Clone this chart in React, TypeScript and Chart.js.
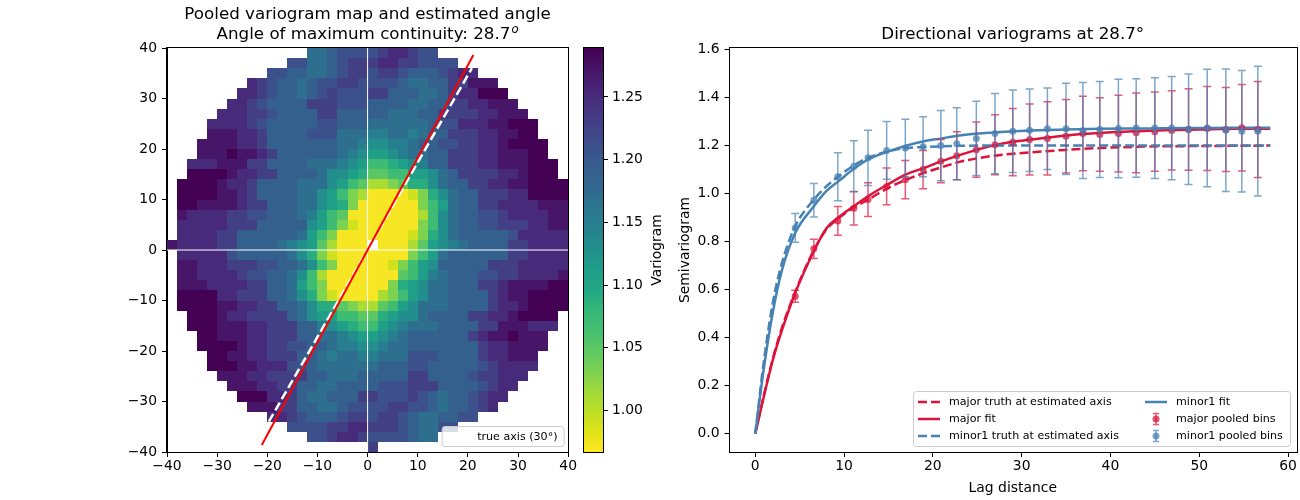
import React, { useEffect, useRef } from "react";
import { Chart, registerables } from "chart.js";

Chart.register(...registerables);

const FONT_FAMILY = "'DejaVu Sans', 'Liberation Sans', sans-serif";
Chart.defaults.font.family = FONT_FAMILY;
Chart.defaults.color = "#000";

// ---------------------------------------------------------------------------
// Pooled variogram map: 2-unit lag cells, rows from y = 40 (top) down to y = -40,
// columns from x = -40 to 40. Each character is a level code (0..g, base 36);
// '.' marks a cell with no pairs.
// ---------------------------------------------------------------------------
const MAP_X_MIN = -40;
const MAP_Y_MAX = 40;
const MAP_CELL = 2;
const MAP_LEVEL_BASE = 0.97;
const MAP_LEVEL_STEP = 0.02;
const MAP_ROWS = [
  "..............aabccccdeedcc.............",
  "............ccaabcdddeeddcccc...........",
  "..........ccbbaabcddcddcbbbcdee.........",
  "........edcbbabccddccccbaabbddfff.......",
  ".......eedcbbabcdcccddbbbaabdeeggg......",
  "......eedcbbbbdddcccbbbbaabbddeefff.....",
  ".....eeeddcbbbbddbbbbbaaabbddddeefff....",
  "....eeeedcbbbbbccbbbaaaaaabcceeeffggg...",
  "....fffeedbbbbcccaaa99aa9abbdddeeffgg...",
  "...ffffeedbbbbbbbaa98899abbccddeefgggg..",
  "...fffgffedbbbbbba987789aabbdddeefffgg..",
  "..eeefffddbbbbaaa987556789bbdddeefffggg.",
  "..ggggfeeddbbbba88764455778abddddeefggg.",
  ".ggggfeedbbbbaaa87542234668abbddeeffgggg",
  ".ggggffedbbbbaa8753200001368abbdddeegggg",
  ".ggffffeddbbbaa8763000000357abbddeeeefff",
  ".feeeeddccbbba97540000000258abbccdeeeeff",
  ".eeeeedddbbbbb87531000000358abbccdddeeff",
  ".eeeeddbbbbbba75300000001368abbbbbceeeee",
  "feeeeddbbbba98742000.00024789abbbbddeeee",
  ".eeeeecbbbbba86310000000357abbbbbbddeeee",
  ".ffeeedddccbba8530000013578bbbbbdddeeeee",
  ".ffeeeedccbba85200000004579abbbccddeeeef",
  ".fffeeeeddbba7530000003678aabbbddeffffgg",
  ".ggggeedddbba8631000023578aabbbbdeffgggg",
  ".ggggffeeddbba86643224578aaabbbbdeefgggg",
  "..gggfeeddddba87755446788abbbbddeefgggg.",
  "..gggfffeedddbb987655789aaabbbbddfffeee.",
  "...ggfffeedddbbaa987789abbbbbbdeffgfff..",
  "...ggggfeeddccbba99889aabbbbbbbdeeffff..",
  "....ggffeedddbba9aa99aaacccbbbbdeefff...",
  "....gggffeeeccbaaaaaabbbccbbbbbcdeeee...",
  ".....fffeeddddbbaaabbbbbddbbbbcddeee....",
  "......fffeeddbbaabbbbcccdddbbbbcdee.....",
  ".......gggeedbaabbbddcccdcbabbcdee......",
  "........fffddbbaabccccddccbabbcde.......",
  "..........eedcbbbcddcddcbaabbcc.........",
  "............ccccddeedddcbaacc...........",
  "..............ccdeedccccbaa.............",
  "....................d...................",
];
const MAP_VMIN = 0.967;
const MAP_VMAX = 1.289;
const MAP_TICKS = [-40, -30, -20, -10, 0, 10, 20, 30, 40];
const COLORBAR_TICKS = [1.0, 1.05, 1.1, 1.15, 1.2, 1.25];
const EST_ANGLE = 28.7;
const TRUE_ANGLE = 30;
const EST_AXIS_LINE = [{ x: -21.1, y: -38.6 }, { x: 21.1, y: 38.6 }];
const TRUE_AXIS_LINE = [{ x: -19.7, y: -34.0 }, { x: 20.8, y: 36.0 }];
const ZERO_H_LINE = [{ x: -40, y: 0 }, { x: 40, y: 0 }];
const ZERO_V_LINE = [{ x: 0, y: -40 }, { x: 0, y: 40 }];

// ---------------------------------------------------------------------------
// Directional variograms
// ---------------------------------------------------------------------------
const LAG_BINS = [4.5, 6.6, 9.3, 11.1, 12.7, 14.8, 16.9, 18.9, 20.9, 22.7, 24.9, 27.0, 29.0, 30.9, 32.9, 35.0, 36.9, 38.8, 40.9, 42.9, 45.0, 46.9, 48.8, 50.9, 53.0, 54.8, 56.6];
const MAJOR_BIN_GAMMA = [0.572, 0.770, 0.886, 0.939, 0.975, 1.030, 1.058, 1.100, 1.135, 1.158, 1.183, 1.203, 1.214, 1.225, 1.230, 1.239, 1.250, 1.246, 1.250, 1.253, 1.258, 1.263, 1.267, 1.271, 1.267, 1.274, 1.267];
const MAJOR_BIN_ERR = [0.025, 0.04, 0.06, 0.07, 0.07, 0.077, 0.08, 0.08, 0.09, 0.10, 0.115, 0.125, 0.14, 0.148, 0.153, 0.153, 0.155, 0.153, 0.16, 0.166, 0.165, 0.165, 0.17, 0.175, 0.175, 0.18, 0.2];
const MINOR_BIN_GAMMA = [0.857, 0.972, 1.070, 1.114, 1.149, 1.180, 1.190, 1.195, 1.200, 1.208, 1.230, 1.250, 1.260, 1.264, 1.270, 1.270, 1.263, 1.267, 1.271, 1.273, 1.273, 1.273, 1.268, 1.273, 1.264, 1.260, 1.260];
const MINOR_BIN_ERR = [0.06, 0.07, 0.10, 0.106, 0.115, 0.12, 0.12, 0.125, 0.146, 0.15, 0.155, 0.167, 0.172, 0.172, 0.17, 0.19, 0.2, 0.2, 0.205, 0.205, 0.21, 0.215, 0.23, 0.245, 0.255, 0.253, 0.27];

const CURVE_LAGS = [0, 1, 2, 3, 4.5, 6.6, 8, 9.5, 11, 12.7, 15, 17, 19, 21, 23, 25, 27, 29, 31, 35, 39, 43, 46, 50, 54, 58];
const MAJOR_TRUTH = [0, 0.165, 0.315, 0.44, 0.59, 0.765, 0.85, 0.9, 0.94, 0.975, 1.024, 1.058, 1.086, 1.11, 1.132, 1.147, 1.158, 1.166, 1.172, 1.182, 1.19, 1.195, 1.197, 1.198, 1.199, 1.2];
const MAJOR_FIT = [0, 0.16, 0.31, 0.43, 0.586, 0.76, 0.855, 0.905, 0.945, 0.989, 1.04, 1.08, 1.107, 1.135, 1.16, 1.183, 1.202, 1.216, 1.225, 1.242, 1.253, 1.26, 1.264, 1.267, 1.27, 1.27];
const MINOR_TRUTH = [0, 0.31, 0.55, 0.71, 0.864, 0.975, 1.03, 1.075, 1.115, 1.149, 1.176, 1.19, 1.194, 1.197, 1.199, 1.2, 1.2, 1.2, 1.2, 1.2, 1.2, 1.2, 1.2, 1.2, 1.2, 1.2];
const MINOR_FIT = [0, 0.28, 0.51, 0.68, 0.836, 0.947, 1.01, 1.055, 1.1, 1.142, 1.176, 1.2, 1.218, 1.23, 1.242, 1.25, 1.255, 1.26, 1.263, 1.267, 1.27, 1.271, 1.272, 1.273, 1.274, 1.274];

const VARIO_X_TICKS = [0, 10, 20, 30, 40, 50, 60];
const VARIO_Y_TICKS = [0, 0.2, 0.4, 0.6, 0.8, 1.0, 1.2, 1.4, 1.6];
const LEGEND_LABELS = [
  "major truth at estimated axis",
  "major fit",
  "minor1 truth at estimated axis",
  "minor1 fit",
  "major pooled bins",
  "minor1 pooled bins",
];

const CRIMSON = "220, 20, 60";
const STEEL = "70, 130, 180";

// viridis anchors every 0.05
const VIRIDIS = [
  "#440154", "#471365", "#482475", "#463480", "#414487", "#3b528b", "#355f8d",
  "#31688e", "#2a788e", "#26828e", "#21918c", "#1f9e89", "#22a884", "#35b779",
  "#44bf70", "#5ec962", "#7ad151", "#a0da39", "#bddf26", "#dfe318", "#fde725",
];
const VIRIDIS_RGB = VIRIDIS.map((h) => [1, 3, 5].map((i) => parseInt(h.slice(i, i + 2), 16)));

function viridis(p: number) {
  const t = Math.min(1, Math.max(0, p)) * (VIRIDIS_RGB.length - 1);
  const i = Math.min(VIRIDIS_RGB.length - 2, Math.floor(t));
  const f = t - i;
  const a = VIRIDIS_RGB[i];
  const b = VIRIDIS_RGB[i + 1];
  const c = a.map((v, k) => Math.round(v + (b[k] - v) * f));
  return `rgb(${c[0]},${c[1]},${c[2]})`;
}

// reversed viridis: low semivariance is yellow, high is dark purple
function mapColor(v: number) {
  return viridis(1 - (v - MAP_VMIN) / (MAP_VMAX - MAP_VMIN));
}

const signed = (v: number) => (v < 0 ? "\u2212" + Math.abs(v) : String(v));

function font(size: number, style = "") {
  return `${style} ${size}px ${FONT_FAMILY}`.trim();
}

function axis(values: number[], min: number, max: number, fmt: (v: number) => string, size: number, padding: number, position?: string, display = true) {
  return {
    type: "linear",
    display,
    min,
    max,
    position,
    afterBuildTicks: (s: any) => {
      s.ticks = values.map((value) => ({ value }));
    },
    afterFit: (s: any) => {
      if (s.isHorizontal()) s.height = size;
      else s.width = size;
    },
    grid: { drawOnChartArea: false, drawTicks: true, tickLength: 5, color: "#000", lineWidth: 1 },
    border: { display: true, color: "#000", width: 1 },
    ticks: {
      autoSkip: false,
      maxRotation: 0,
      minRotation: 0,
      padding,
      color: "#000",
      font: { family: FONT_FAMILY, size: 13.9 },
      callback: (v: any) => fmt(Number(v)),
    },
  };
}

function roundRectPath(ctx: CanvasRenderingContext2D, x: number, y: number, w: number, h: number, r: number) {
  ctx.beginPath();
  ctx.moveTo(x + r, y);
  ctx.lineTo(x + w - r, y);
  ctx.arcTo(x + w, y, x + w, y + r, r);
  ctx.lineTo(x + w, y + h - r);
  ctx.arcTo(x + w, y + h, x + w - r, y + h, r);
  ctx.lineTo(x + r, y + h);
  ctx.arcTo(x, y + h, x, y + h - r, r);
  ctx.lineTo(x, y + r);
  ctx.arcTo(x, y, x + r, y, r);
  ctx.closePath();
}

const framePlugin = {
  id: "frame",
  afterDraw(chart: any) {
    const { ctx, chartArea: a } = chart;
    ctx.save();
    ctx.strokeStyle = "#000";
    ctx.lineWidth = 1;
    ctx.strokeRect(Math.round(a.left) - 0.5, Math.round(a.top) - 0.5, Math.round(a.right - a.left) + 1, Math.round(a.bottom - a.top) + 1);
    ctx.restore();
  },
};

const mapCellsPlugin = {
  id: "mapCells",
  beforeDatasetsDraw(chart: any) {
    const { ctx, scales } = chart;
    const xs = scales.x;
    const ys = scales.y;
    ctx.save();
    MAP_ROWS.forEach((row, r) => {
      const yTop = MAP_Y_MAX - r * MAP_CELL;
      const py0 = Math.round(ys.getPixelForValue(yTop));
      const py1 = Math.round(ys.getPixelForValue(yTop - MAP_CELL));
      for (let c = 0; c < row.length; c++) {
        const ch = row[c];
        if (ch === ".") continue;
        const v = MAP_LEVEL_BASE + MAP_LEVEL_STEP * parseInt(ch, 36);
        const xLeft = MAP_X_MIN + c * MAP_CELL;
        const px0 = Math.round(xs.getPixelForValue(xLeft));
        const px1 = Math.round(xs.getPixelForValue(xLeft + MAP_CELL));
        ctx.fillStyle = mapColor(v);
        ctx.fillRect(px0, py0, px1 - px0, py1 - py0);
      }
    });
    ctx.restore();
  },
};

const mapTextPlugin = {
  id: "mapText",
  afterDraw(chart: any) {
    const { ctx, chartArea: a } = chart;
    const cx = (a.left + a.right) / 2;
    ctx.save();
    ctx.fillStyle = "#000";
    ctx.textBaseline = "alphabetic";
    ctx.textAlign = "center";
    ctx.font = font(16.7);
    ctx.fillText("Pooled variogram map and estimated angle", cx, a.top - 29);
    const line2 = "Angle of maximum continuity: " + EST_ANGLE.toFixed(1);
    const w1 = ctx.measureText(line2).width;
    ctx.font = font(11.7, "italic");
    const w2 = ctx.measureText("o").width;
    const start = cx - (w1 + w2 + 1) / 2;
    ctx.textAlign = "left";
    ctx.font = font(16.7);
    ctx.fillText(line2, start, a.top - 9);
    ctx.font = font(11.7, "italic");
    ctx.fillText("o", start + w1 + 1, a.top - 15.5);

    // legend for the reference axis
    const w = 122;
    const h = 20;
    const right = a.right - 4;
    const bottom = a.bottom - 5.5;
    const left = right - w;
    const top = bottom - h;
    roundRectPath(ctx, left, top, w, h, 3);
    ctx.fillStyle = "rgba(255,255,255,0.8)";
    ctx.fill();
    ctx.strokeStyle = "#cccccc";
    ctx.lineWidth = 1;
    ctx.stroke();
    ctx.strokeStyle = "#ffffff";
    ctx.lineWidth = 2.5;
    ctx.setLineDash([9, 4]);
    ctx.beginPath();
    ctx.moveTo(left + 6, top + h / 2);
    ctx.lineTo(left + 28, top + h / 2);
    ctx.stroke();
    ctx.setLineDash([]);
    ctx.fillStyle = "#000";
    ctx.font = font(11.1);
    ctx.textBaseline = "middle";
    ctx.fillText(`true axis (${TRUE_ANGLE}\u00b0)`, left + 35, top + h / 2 + 0.5);
    ctx.restore();
  },
};

const colorbarPlugin = {
  id: "colorbar",
  beforeDatasetsDraw(chart: any) {
    const { ctx, chartArea: a, scales } = chart;
    const ys = scales.y;
    ctx.save();
    for (let py = Math.floor(a.top); py < Math.ceil(a.bottom); py++) {
      ctx.fillStyle = mapColor(ys.getValueForPixel(py + 0.5));
      ctx.fillRect(a.left, py, a.right - a.left, 1);
    }
    ctx.restore();
  },
  afterDraw(chart: any) {
    const { ctx, chartArea: a } = chart;
    ctx.save();
    ctx.translate(a.right + 54, (a.top + a.bottom) / 2);
    ctx.rotate(-Math.PI / 2);
    ctx.fillStyle = "#000";
    ctx.font = font(13.9);
    ctx.textAlign = "center";
    ctx.textBaseline = "middle";
    ctx.fillText("Variogram", 0, 0);
    ctx.restore();
  },
};

const errorBarPlugin = {
  id: "errorBars",
  beforeDatasetDraw(chart: any, args: any) {
    const ds = chart.data.datasets[args.index];
    if (!ds.errors) return;
    const { ctx, scales } = chart;
    const xs = scales.x;
    const ys = scales.y;
    ctx.save();
    ctx.strokeStyle = ds.errorColor;
    ctx.lineWidth = 1.5;
    ctx.beginPath();
    ds.data.forEach((pt: any, i: number) => {
      const px = xs.getPixelForValue(pt.x);
      const lo = ys.getPixelForValue(pt.y - ds.errors[i]);
      const hi = ys.getPixelForValue(pt.y + ds.errors[i]);
      ctx.moveTo(px, lo);
      ctx.lineTo(px, hi);
      ctx.moveTo(px - 4, lo);
      ctx.lineTo(px + 4, lo);
      ctx.moveTo(px - 4, hi);
      ctx.lineTo(px + 4, hi);
    });
    ctx.stroke();
    ctx.restore();
  },
};

const varioTextPlugin = {
  id: "varioText",
  afterDraw(chart: any) {
    const { ctx, chartArea: a } = chart;
    const cx = (a.left + a.right) / 2;
    ctx.save();
    ctx.fillStyle = "#000";
    ctx.textAlign = "center";
    ctx.textBaseline = "alphabetic";
    ctx.font = font(16.7);
    ctx.fillText(`Directional variograms at ${EST_ANGLE.toFixed(1)}\u00b0`, cx, a.top - 9);
    ctx.font = font(13.9);
    ctx.textBaseline = "middle";
    ctx.fillText("Lag distance", cx, a.bottom + 36);
    ctx.save();
    ctx.translate(a.left - 44.5, (a.top + a.bottom) / 2);
    ctx.rotate(-Math.PI / 2);
    ctx.fillText("Semivariogram", 0, 0);
    ctx.restore();

    // legend, two columns
    const w = 377;
    const h = 55;
    const right = a.right - 5.5;
    const bottom = a.bottom - 5.5;
    const left = right - w;
    const top = bottom - h;
    roundRectPath(ctx, left, top, w, h, 3);
    ctx.fillStyle = "rgba(255,255,255,0.8)";
    ctx.fill();
    ctx.strokeStyle = "#cccccc";
    ctx.lineWidth = 1;
    ctx.stroke();
    const rows = [bottom - 44.5, bottom - 27.5, bottom - 10.5];
    const cols = [left + 4.5, left + 231.5];
    const kinds = [
      { color: `rgb(${CRIMSON})`, dash: true, bar: false },
      { color: `rgb(${CRIMSON})`, dash: false, bar: false },
      { color: `rgb(${STEEL})`, dash: true, bar: false },
      { color: `rgb(${STEEL})`, dash: false, bar: false },
      { color: CRIMSON, dash: false, bar: true },
      { color: STEEL, dash: false, bar: true },
    ];
    LEGEND_LABELS.forEach((label, i) => {
      const x1 = cols[Math.floor(i / 3)];
      const y = rows[i % 3];
      const k = kinds[i];
      if (k.bar) {
        const xc = x1 + 11;
        ctx.strokeStyle = `rgba(${k.color},0.7)`;
        ctx.lineWidth = 1.5;
        ctx.beginPath();
        ctx.moveTo(xc, y - 5.5);
        ctx.lineTo(xc, y + 5.5);
        ctx.moveTo(xc - 3, y - 5.5);
        ctx.lineTo(xc + 3, y - 5.5);
        ctx.moveTo(xc - 3, y + 5.5);
        ctx.lineTo(xc + 3, y + 5.5);
        ctx.stroke();
        ctx.fillStyle = `rgba(${k.color},0.75)`;
        ctx.beginPath();
        ctx.arc(xc, y, 3.5, 0, Math.PI * 2);
        ctx.fill();
      } else {
        ctx.strokeStyle = k.color;
        ctx.lineWidth = 2.5;
        ctx.setLineDash(k.dash ? [9, 4] : []);
        ctx.beginPath();
        ctx.moveTo(x1, y);
        ctx.lineTo(x1 + 22, y);
        ctx.stroke();
        ctx.setLineDash([]);
      }
      ctx.fillStyle = "#000";
      ctx.font = font(11.1);
      ctx.textAlign = "left";
      ctx.textBaseline = "middle";
      ctx.fillText(label, x1 + 31, y + 0.5);
    });
    ctx.restore();
  },
};

function lineSet(xs: number[], ys: number[], color: string, dashed: boolean) {
  return {
    data: xs.map((x, i) => ({ x, y: ys[i] })),
    showLine: true,
    borderColor: color,
    borderWidth: 2.5,
    borderDash: dashed ? [9, 4] : [],
    pointRadius: 0,
    cubicInterpolationMode: "monotone",
  };
}

function binSet(gamma: number[], err: number[], rgb: string) {
  return {
    data: LAG_BINS.map((x, i) => ({ x, y: gamma[i] })),
    showLine: false,
    pointRadius: 3.5,
    pointBackgroundColor: `rgba(${rgb},0.75)`,
    pointBorderWidth: 0,
    errors: err,
    errorColor: `rgba(${rgb},0.7)`,
  };
}

function createMapChart(canvas: HTMLCanvasElement) {
  return new Chart(canvas, {
    type: "scatter",
    data: {
      datasets: [
        { data: EST_AXIS_LINE, showLine: true, borderColor: "#ff0000", borderWidth: 2, pointRadius: 0 },
        { data: TRUE_AXIS_LINE, showLine: true, borderColor: "#ffffff", borderWidth: 2.5, borderDash: [9, 4], pointRadius: 0 },
        { data: ZERO_H_LINE, showLine: true, borderColor: "#ffffff", borderWidth: 1, pointRadius: 0 },
        { data: ZERO_V_LINE, showLine: true, borderColor: "#ffffff", borderWidth: 1, pointRadius: 0 },
      ] as any,
    },
    options: {
      animation: false,
      responsive: false,
      events: [],
      layout: { padding: { left: 107, right: 9, top: 48, bottom: 18 } },
      plugins: { legend: { display: false }, tooltip: { enabled: false } },
      scales: {
        x: axis(MAP_TICKS, -40, 40, signed, 30, 1, "bottom"),
        y: axis(MAP_TICKS, -40, 40, signed, 60, 5, "left"),
      } as any,
    },
    plugins: [mapCellsPlugin, framePlugin, mapTextPlugin],
  });
}

function createColorbar(canvas: HTMLCanvasElement) {
  return new Chart(canvas, {
    type: "scatter",
    data: { datasets: [{ data: [] }] },
    options: {
      animation: false,
      responsive: false,
      events: [],
      layout: { padding: { left: 6, right: 0, top: 48, bottom: 48 } },
      plugins: { legend: { display: false }, tooltip: { enabled: false } },
      scales: {
        x: { type: "linear", display: false, min: 0, max: 1 },
        y: axis(COLORBAR_TICKS, MAP_VMIN, MAP_VMAX, (v) => v.toFixed(2), 67, 4, "right"),
      } as any,
    },
    plugins: [colorbarPlugin, framePlugin],
  });
}

function createVariogramChart(canvas: HTMLCanvasElement) {
  return new Chart(canvas, {
    type: "scatter",
    data: {
      datasets: [
        binSet(MINOR_BIN_GAMMA, MINOR_BIN_ERR, STEEL),
        binSet(MAJOR_BIN_GAMMA, MAJOR_BIN_ERR, CRIMSON),
        lineSet(CURVE_LAGS, MINOR_FIT, `rgb(${STEEL})`, false),
        lineSet(CURVE_LAGS, MINOR_TRUTH, `rgb(${STEEL})`, true),
        lineSet(CURVE_LAGS, MAJOR_FIT, `rgb(${CRIMSON})`, false),
        lineSet(CURVE_LAGS, MAJOR_TRUTH, `rgb(${CRIMSON})`, true),
      ] as any,
    },
    options: {
      animation: false,
      responsive: false,
      events: [],
      layout: { padding: { left: 0, right: 4, top: 48, bottom: 18 } },
      plugins: { legend: { display: false }, tooltip: { enabled: false } },
      scales: {
        x: axis(VARIO_X_TICKS, -2.9, 60.9, (v) => String(v), 30, 1, "bottom"),
        y: axis(VARIO_Y_TICKS, -0.0765, 1.6065, (v) => v.toFixed(1), 59.5, 5, "left"),
      } as any,
    },
    plugins: [errorBarPlugin, framePlugin, varioTextPlugin],
  });
}

export default function App() {
  const mapRef = useRef<HTMLCanvasElement>(null);
  const barRef = useRef<HTMLCanvasElement>(null);
  const varioRef = useRef<HTMLCanvasElement>(null);

  useEffect(() => {
    const charts = [
      createMapChart(mapRef.current!),
      createColorbar(barRef.current!),
      createVariogramChart(varioRef.current!),
    ];
    return () => charts.forEach((c) => c.destroy());
  }, []);

  const abs = (left: number, width: number): React.CSSProperties => ({
    position: "absolute",
    left,
    top: 0,
    width,
    height: 500,
  });

  return (
    <div style={{ position: "fixed", left: 0, top: 0, width: 1300, height: 500, background: "#fff" }}>
      <canvas ref={mapRef} width={578} height={500} style={abs(0, 578)} />
      <canvas ref={barRef} width={92} height={500} style={abs(578, 92)} />
      <canvas ref={varioRef} width={630} height={500} style={abs(670, 630)} />
    </div>
  );
}
